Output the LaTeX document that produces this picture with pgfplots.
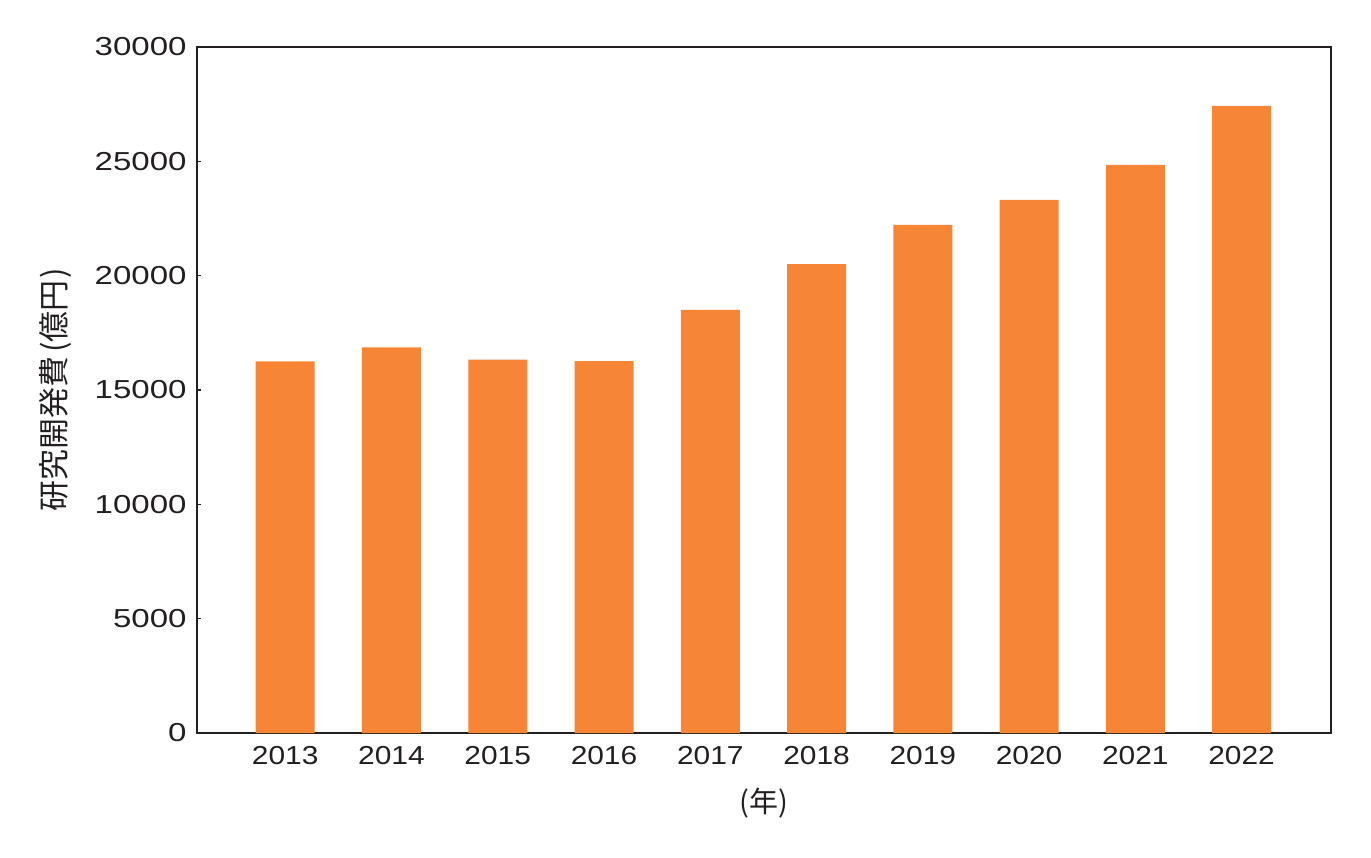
\documentclass[border=0pt]{standalone}
\usepackage{fontspec}
\setmainfont{Liberation Sans}
\newfontfamily\numfont[FakeStretch=1.15]{Liberation Sans}
\newfontfamily\ynumfont[FakeStretch=1.27]{Liberation Sans}
\newfontfamily\cjk{Noto Sans CJK JP}
\usepackage{pgfplots}
\pgfplotsset{compat=1.18}
\definecolor{barorange}{HTML}{F78536}
\definecolor{txt}{HTML}{231F20}
\begin{document}
\begin{tikzpicture}
\begin{axis}[
  name=ax,
  scale only axis,
  width=567pt, height=343pt,
  xmin=2012.17, xmax=2022.84,
  ymin=0, ymax=30000,
  ytick={0,5000,...,30000},
  xtick={2013,...,2022},
  xticklabel style={/pgf/number format/1000 sep=},
  yticklabel style={/pgf/number format/1000 sep=},
  /pgf/number format/assume math mode=true,
  scaled y ticks=false,
  major x tick style={draw=none},
  ytick pos=left,
  tick align=inside,
  major tick length=2pt,
  axis line style={line width=0.7pt, txt},
  tick style={line width=0.6pt, txt},
  xticklabel style={font=\numfont\fontsize{13}{15}\selectfont, text=txt, yshift=-1pt},
  yticklabel style={font=\ynumfont\fontsize{13}{15}\selectfont, text=txt, xshift=-1.7pt},
  ylabel={\cjk 研究開発費\hspace{2pt}(億円\hspace{1pt})},
  xlabel={\cjk (年)},
  xlabel style={font=\fontsize{14.5}{16}\selectfont, text=txt, at={(axis description cs:0.5,-0.102)}, anchor=center},
  ylabel style={font=\fontsize{15.5}{17}\selectfont, text=txt, at={(axis description cs:-0.1252,0.5)}, anchor=center},
  ybar, bar width=29.5pt,
]
\addplot[fill=barorange, draw=none] coordinates {
(2013,16255) (2014,16867) (2015,16325) (2016,16268) (2017,18499)
(2018,20510) (2019,22216) (2020,23309) (2021,24840) (2022,27420)
};
\end{axis}
\path ([xshift=-98.5pt,yshift=-62pt]ax.south west) rectangle ([xshift=20pt,yshift=23.5pt]ax.north east);
\end{tikzpicture}
\end{document}
